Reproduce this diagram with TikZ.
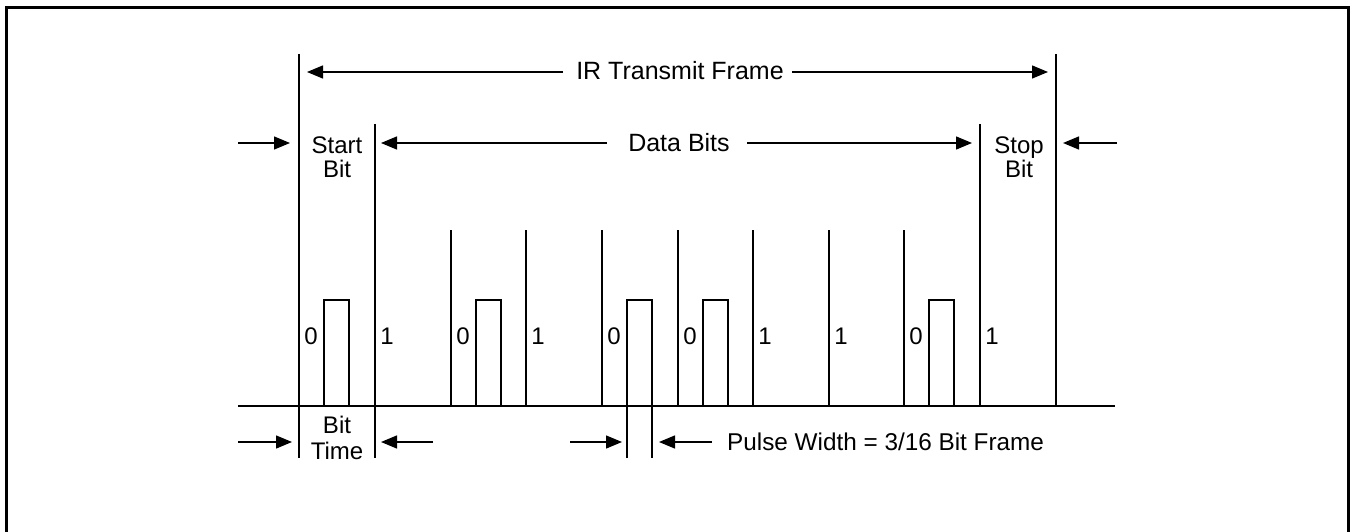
\documentclass[tikz,border=0pt]{standalone}
\usepackage{fontspec}
\setmainfont{Liberation Sans}
\usetikzlibrary{arrows.meta}
\begin{document}
\begin{tikzpicture}[x=1pt,y=-1pt,
  wire/.style={line width=1.6pt},
  dimarrow/.style={line width=1.4pt,-{Triangle[length=16pt,width=13pt]}},
  lbl/.style={font=\fontsize{25}{25}\selectfont,inner sep=0pt,align=center},
  bitlbl/.style={font=\fontsize{24}{25}\selectfont,inner sep=0pt,anchor=base}]
\useasboundingbox (0,0) rectangle (1355,532);
% frame
\draw[line width=3pt] (6,545) -- (6,8) -- (1348,8) -- (1348,545);
% baseline
\draw[wire] (238,406) -- (1115,406);
% long bit boundaries
\draw[wire] (299,54) -- (299,458);
\draw[wire] (375,124) -- (375,458);
\foreach \x in {451,526,602,678,753,829,904} \draw[wire] (\x,230) -- (\x,406);
\draw[wire] (980,124) -- (980,406);
\draw[wire] (1056,54) -- (1056,406);
% pulses
\foreach \x in {324,476,703,929} \draw[wire] (\x,406) |- (\x+25,300) -- (\x+25,406);
\draw[wire] (627,458) |- (652,300) -- (652,458);
% bit values
\foreach \x/\v [count=\i] in {299/0,375/1,451/0,526/1,602/0,678/0,753/1,829/1,904/0,980/1}
  \node[bitlbl] (b\i) at (\x+12,344.5) {\v};
% labels
\node[lbl,anchor=base] (ir) at (680,80) {IR Transmit Frame};
\node[lbl,anchor=base] (data) at (679,152) {Data Bits};
\node[lbl,anchor=base,font=\fontsize{24}{24}\selectfont] (start) at (337,177.5) {Start\\Bit};
\node[lbl,anchor=base,font=\fontsize{24}{24}\selectfont] (stop) at (1019,177.5) {Stop\\Bit};
\node[lbl,anchor=base,font=\fontsize{24}{26}\selectfont] (bittime) at (337,459.5) {Bit\\Time};
\node[lbl,anchor=base west,font=\fontsize{24.3}{25}\selectfont] (pw) at (727,450.5) {Pulse Width = 3/16 Bit Frame};
% arrow coordinates
\coordinate (irA) at (563,72);  \coordinate (irL) at (307,72);
\coordinate (irB) at (792,72);  \coordinate (irR) at (1048,72);
\coordinate (dA) at (607,143);  \coordinate (dL) at (381,143);
\coordinate (dB) at (747,143);  \coordinate (dR) at (972,143);
\coordinate (oLa) at (238,143); \coordinate (oLb) at (290,143);
\coordinate (oRa) at (1117,143); \coordinate (oRb) at (1063,143);
\coordinate (tLa) at (238,442); \coordinate (tLb) at (292,442);
\coordinate (tRa) at (433,442); \coordinate (tRb) at (381,442);
\coordinate (pLa) at (570,442); \coordinate (pLb) at (622,442);
\coordinate (pRa) at (712,442); \coordinate (pRb) at (659,442);
\draw[dimarrow] (irA) -- (irL);
\draw[dimarrow] (irB) -- (irR);
\draw[dimarrow] (dA) -- (dL);
\draw[dimarrow] (dB) -- (dR);
\draw[dimarrow] (oLa) -- (oLb);
\draw[dimarrow] (oRa) -- (oRb);
\draw[dimarrow] (tLa) -- (tLb);
\draw[dimarrow] (tRa) -- (tRb);
\draw[dimarrow] (pLa) -- (pLb);
\draw[dimarrow] (pRa) -- (pRb);
\end{tikzpicture}
\end{document}
